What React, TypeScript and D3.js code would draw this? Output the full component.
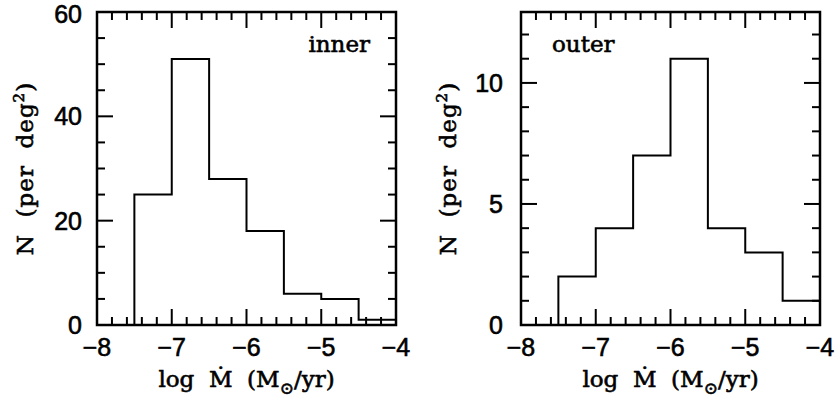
import React from "react";
import * as d3 from "d3";

const binEdges = [-7.5, -7, -6.5, -6, -5.5, -5, -4.5, -4];
const innerCounts = [25, 51, 28, 18, 6, 5, 1];
const outerCounts = [2, 4, 7, 11, 4, 3, 1];
const xTicks = [-8, -7, -6, -5, -4];
const innerYTicks = [0, 20, 40, 60];
const outerYTicks = [0, 5, 10];

const W = 838;
const H = 405;
const TICK_FONT = "'Liberation Sans', Arial, sans-serif";
const LABEL_FONT = "'DejaVu Serif', serif";

type PanelProps = {
  x0: number;
  x1: number;
  y0: number;
  y1: number;
  counts: number[];
  yMax: number;
  yMajor: number[];
  yMinorStep: number;
  title: string;
  titleRight: boolean;
  labelX: number;
  tickLabelGap: number;
};

const textStroke = { stroke: "#000", strokeWidth: 0.6 };

function Panel(p: PanelProps) {
  const x = d3.scaleLinear().domain([-8, -4]).range([p.x0, p.x1]);
  const y = d3.scaleLinear().domain([0, p.yMax]).range([p.y1, p.y0]);
  const xMinor = d3.range(-8, -4.0001, 0.2).map((v) => Math.round(v * 10) / 10);
  const yMinor = d3.range(0, p.yMax + 1e-6, p.yMinorStep);
  const pts: [number, number][] = [[binEdges[0], 0]];
  p.counts.forEach((c, i) => {
    pts.push([binEdges[i], c]);
    pts.push([binEdges[i + 1], c]);
  });
  const line = d3
    .line<[number, number]>()
    .x((d) => x(d[0]))
    .y((d) => y(d[1]));
  const MAJ = 16;
  const MIN = 8;
  const isMajorX = (v: number) => Math.abs(v - Math.round(v)) < 1e-6;
  const isMajorY = (v: number) => p.yMajor.some((m) => Math.abs(m - v) < 1e-6);
  const cy = (p.y0 + p.y1) / 2;
  return (
    <g>
      {xMinor.map((v, i) => {
        const len = isMajorX(v) ? MAJ : MIN;
        const xx = x(v);
        return (
          <g key={"xt" + i}>
            <line x1={xx} x2={xx} y1={p.y1} y2={p.y1 - len} stroke="#000" strokeWidth={2} />
            <line x1={xx} x2={xx} y1={p.y0} y2={p.y0 + len} stroke="#000" strokeWidth={2} />
          </g>
        );
      })}
      {yMinor.map((v, i) => {
        const len = isMajorY(v) ? MAJ : MIN;
        const yy = y(v);
        return (
          <g key={"yt" + i}>
            <line x1={p.x0} x2={p.x0 + len} y1={yy} y2={yy} stroke="#000" strokeWidth={2} />
            <line x1={p.x1} x2={p.x1 - len} y1={yy} y2={yy} stroke="#000" strokeWidth={2} />
          </g>
        );
      })}
      <path d={line(pts) || ""} fill="none" stroke="#000" strokeWidth={2} />
      <rect
        x={p.x0}
        y={p.y0}
        width={p.x1 - p.x0}
        height={p.y1 - p.y0}
        fill="none"
        stroke="#000"
        strokeWidth={2.5}
      />
      {xTicks.map((v) => (
        <text
          key={"xl" + v}
          x={x(v)}
          y={356}
          textAnchor="middle"
          fontFamily={TICK_FONT}
          fontSize={25}
          fill="#000"
          {...textStroke}
        >
          {"\u2212" + Math.abs(v)}
        </text>
      ))}
      {p.yMajor.map((v) => (
        <text
          key={"yl" + v}
          x={p.x0 - p.tickLabelGap}
          y={Math.max(y(v), 13.5)}
          dy="0.36em"
          textAnchor="end"
          fontFamily={TICK_FONT}
          fontSize={25}
          fill="#000"
          {...textStroke}
        >
          {v}
        </text>
      ))}
      <text
        x={(p.x0 + p.x1) / 2}
        y={387}
        textAnchor="middle"
        fontFamily={LABEL_FONT}
        fontSize={23}
        fill="#000"
        style={{ whiteSpace: "pre" }}
        {...textStroke}
      >
        {"log  \u1E40  (M"}
        <tspan fontSize={17} dy={7}>
          {"\u2299"}
        </tspan>
        <tspan dy={-7}>{"/yr)"}</tspan>
      </text>
      <text
        transform={`translate(${p.labelX},${cy}) rotate(-90)`}
        textAnchor="middle"
        fontFamily={LABEL_FONT}
        fontSize={23}
        fill="#000"
        letterSpacing={1}
        style={{ whiteSpace: "pre" }}
        {...textStroke}
      >
        {"N  (per  deg"}
        <tspan fontSize={15} dy={-9}>
          2
        </tspan>
        <tspan dy={9}>{")"}</tspan>
      </text>
      <text
        x={p.titleRight ? p.x1 - 26 : p.x0 + 31}
        y={52}
        textAnchor={p.titleRight ? "end" : "start"}
        fontFamily={LABEL_FONT}
        fontSize={23}
        fill="#000"
        {...textStroke}
      >
        {p.title}
      </text>
    </g>
  );
}

export default function App() {
  return (
    <svg
      width={W}
      height={H}
      viewBox={`0 0 ${W} ${H}`}
      style={{ position: "absolute", left: 0, top: 0, background: "#fff" }}
    >
      <rect x={0} y={0} width={W} height={H} fill="#fff" />
      <Panel
        x0={97}
        x1={396}
        y0={12}
        y1={325}
        counts={innerCounts}
        yMax={60}
        yMajor={innerYTicks}
        yMinorStep={5}
        title="inner"
        titleRight={true}
        labelX={33}
        tickLabelGap={15}
      />
      <Panel
        x0={521}
        x1={820}
        y0={12}
        y1={325}
        counts={outerCounts}
        yMax={12.93}
        yMajor={outerYTicks}
        yMinorStep={1}
        title="outer"
        titleRight={false}
        labelX={456}
        tickLabelGap={18}
      />
    </svg>
  );
}
